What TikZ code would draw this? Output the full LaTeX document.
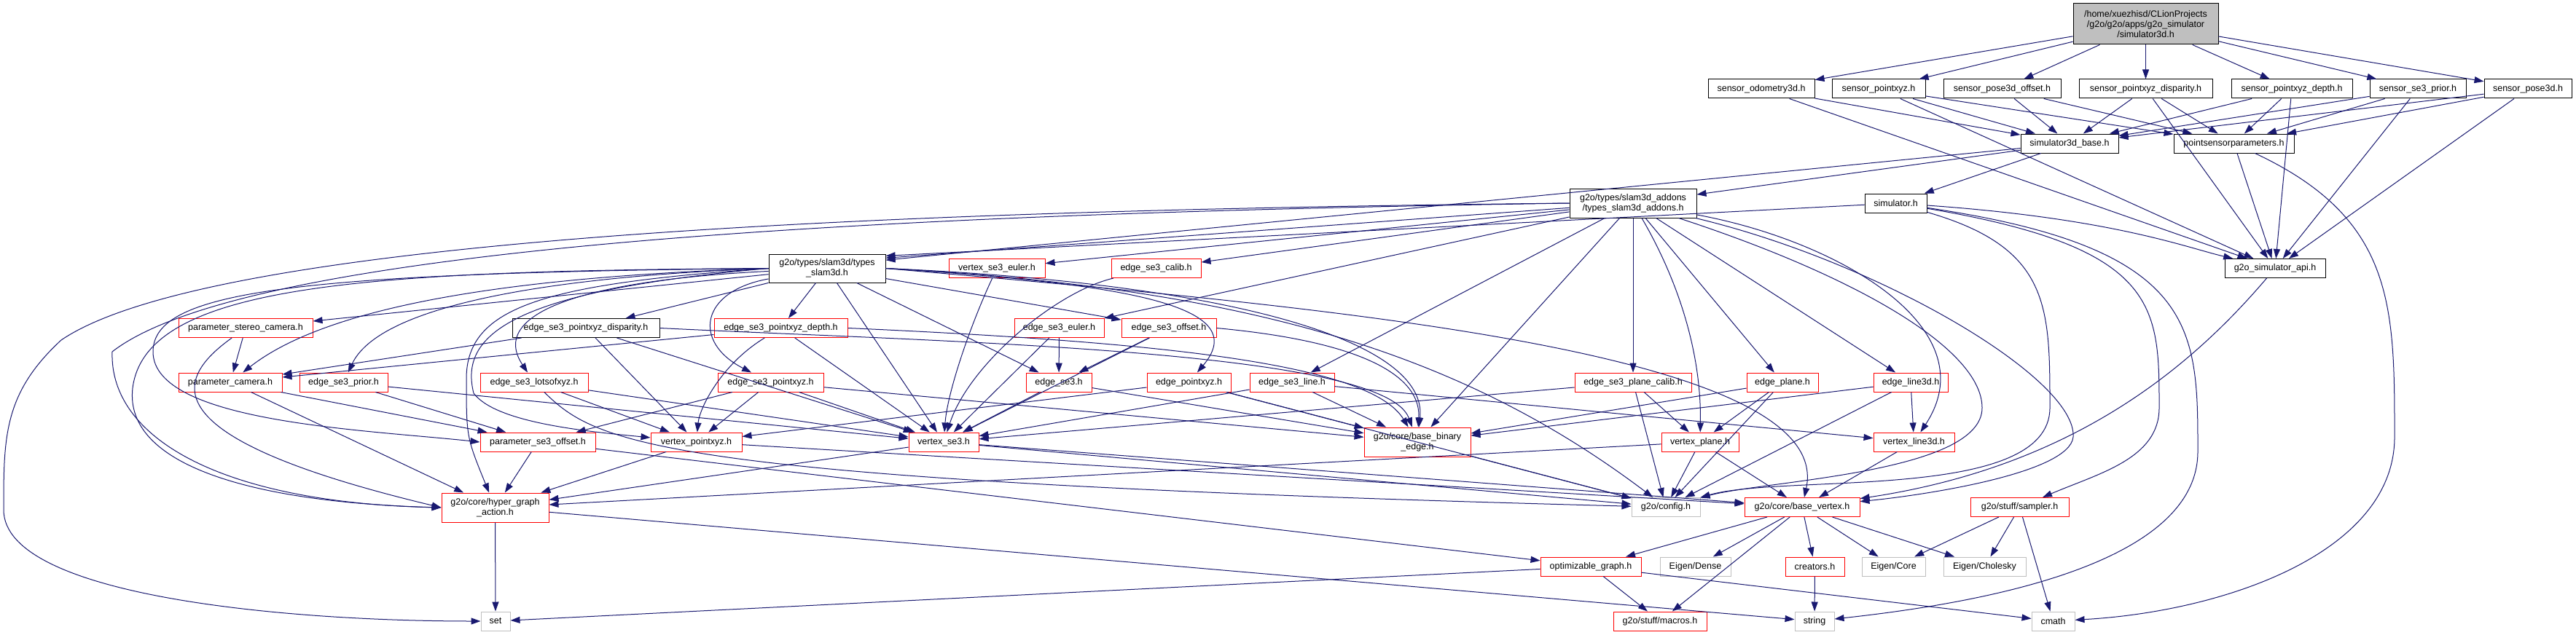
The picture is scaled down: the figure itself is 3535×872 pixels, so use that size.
\documentclass[tikz,border=0pt]{standalone}
\usepackage{fontspec}
\setmainfont{Liberation Sans}
\usetikzlibrary{arrows.meta}
\definecolor{edgecol}{HTML}{191970}
\definecolor{rootfill}{HTML}{BFBFBF}
\definecolor{extgray}{HTML}{BFBFBF}
\begin{document}
\begin{tikzpicture}[x=1pt,y=-1pt,
  nb/.style={draw=black, line width=1.0pt, fill=white, inner sep=0pt, align=center,
             font=\fontsize{12.5}{14}\selectfont, minimum height=26pt},
  nr/.style={nb, draw=red},
  ng/.style={nb, draw=extgray},
  e/.style={draw=edgecol, line width=1.0pt, -{Triangle[length=13pt,width=9pt]}}]
\path[fill=white, use as bounding box] (0,0) rectangle (3535,872);

% ---------- nodes ----------
\node[nb, fill=rootfill, minimum width=199pt, minimum height=56pt] (root) at (2944.5,33)
  {/home/xuezhisd/CLionProjects\\/g2o/g2o/apps/g2o\_simulator\\/simulator3d.h};
\node[nb, minimum width=146pt] (odom) at (2417,122) {sensor\_odometry3d.h};
\node[nb, minimum width=128pt] (pxyz) at (2578,122) {sensor\_pointxyz.h};
\node[nb, minimum width=161pt] (p3off) at (2747.5,122) {sensor\_pose3d\_offset.h};
\node[nb, minimum width=183pt] (dispS) at (2944.5,122) {sensor\_pointxyz\_disparity.h};
\node[nb, minimum width=166pt] (depthS) at (3145,122) {sensor\_pointxyz\_depth.h};
\node[nb, minimum width=132pt] (priorS) at (3318,122) {sensor\_se3\_prior.h};
\node[nb, minimum width=120pt] (pose3dS) at (3469,122) {sensor\_pose3d.h};
\node[nb, minimum width=134pt] (base3d) at (2840,197) {simulator3d\_base.h};
\node[nb, minimum width=165pt] (psp) at (3065.5,197) {pointsensorparameters.h};
\node[nb, minimum width=174pt, minimum height=40pt] (addons) at (2241,279) {g2o/types/slam3d\_addons\\/types\_slam3d\_addons.h};
\node[nb, minimum width=85pt] (simu) at (2601.5,279) {simulator.h};
\node[nb, minimum width=138pt] (api) at (3122,368.5) {g2o\_simulator\_api.h};
\node[nb, minimum width=160pt, minimum height=39pt] (slam) at (1135,368.5) {g2o/types/slam3d/types\\\_slam3d.h};
\node[nr, minimum width=132pt] (vse3e) at (1368,368.5) {vertex\_se3\_euler.h};
\node[nr, minimum width=123pt] (ecalib) at (1586.5,368.5) {edge\_se3\_calib.h};
\node[nr, minimum width=184pt] (pstereo) at (337,450.5) {parameter\_stereo\_camera.h};
\node[nb, minimum width=202pt] (dispE) at (804,450.5) {edge\_se3\_pointxyz\_disparity.h};
\node[nr, minimum width=183pt] (depthE) at (1071.5,450.5) {edge\_se3\_pointxyz\_depth.h};
\node[nr, minimum width=123pt] (ese3e) at (1453.5,450.5) {edge\_se3\_euler.h};
\node[nr, minimum width=130pt] (eoff) at (1604,450.5) {edge\_se3\_offset.h};
\node[nr, minimum width=142pt] (pcam) at (316,525) {parameter\_camera.h};
\node[nr, minimum width=121pt] (eprior) at (471.5,525) {edge\_se3\_prior.h};
\node[nr, minimum width=148pt] (lots) at (733,525) {edge\_se3\_lotsofxyz.h};
\node[nr, minimum width=145pt] (epxyz3) at (1057.5,525) {edge\_se3\_pointxyz.h};
\node[nr, minimum width=90pt] (ese3) at (1453,525) {edge\_se3.h};
\node[nr, minimum width=115pt] (epxyz) at (1631.5,525) {edge\_pointxyz.h};
\node[nr, minimum width=116pt] (eline) at (1773,525) {edge\_se3\_line.h};
\node[nr, minimum width=160pt] (eplc) at (2241,525) {edge\_se3\_plane\_calib.h};
\node[nr, minimum width=98pt] (eplane) at (2446,525) {edge\_plane.h};
\node[nr, minimum width=102pt] (eline3d) at (2622,525) {edge\_line3d.h};
\node[nr, minimum width=158pt] (pse3off) at (738,607) {parameter\_se3\_offset.h};
\node[nr, minimum width=125pt] (vpxyz) at (955.5,607) {vertex\_pointxyz.h};
\node[nr, minimum width=96pt] (vse3) at (1295,607) {vertex\_se3.h};
\node[nr, minimum width=146pt, minimum height=40pt] (bbe) at (1945,607) {g2o/core/base\_binary\\\_edge.h};
\node[nr, minimum width=106pt] (vplane) at (2333,607) {vertex\_plane.h};
\node[nr, minimum width=111pt] (vline3d) at (2626.5,607) {vertex\_line3d.h};
\node[nr, minimum width=147pt, minimum height=40pt] (hga) at (679.5,697) {g2o/core/hyper\_graph\\\_action.h};
\node[ng, minimum width=94pt] (config) at (2286,696.5) {g2o/config.h};
\node[nr, minimum width=158pt] (bvert) at (2473,696.5) {g2o/core/base\_vertex.h};
\node[nr, minimum width=135pt] (sampler) at (2771.5,696.5) {g2o/stuff/sampler.h};
\node[nr, minimum width=138pt] (optg) at (2183,778) {optimizable\_graph.h};
\node[ng, minimum width=97pt] (edense) at (2326.5,778) {Eigen/Dense};
\node[nr, minimum width=81pt] (creators) at (2490.5,778) {creators.h};
\node[ng, minimum width=87pt] (ecore) at (2598.5,778) {Eigen/Core};
\node[ng, minimum width=113pt] (echol) at (2723.5,778) {Eigen/Cholesky};
\node[ng, minimum width=40pt] (set) at (680,853) {set};
\node[nr, minimum width=128pt] (macros) at (2278,853) {g2o/stuff/macros.h};
\node[ng, minimum width=54pt] (string) at (2490,853) {string};
\node[ng, minimum width=59pt] (cmath) at (2817.5,853) {cmath};

% ---------- straight edges ----------
\foreach \a/\b in {
 root/odom, root/pxyz, root/p3off, root/dispS, root/depthS, root/priorS, root/pose3dS,
 odom/base3d, odom/api, pxyz/base3d, pxyz/psp, pxyz/api, p3off/base3d, p3off/psp,
 dispS/base3d, dispS/psp, dispS/api, depthS/base3d, depthS/psp, depthS/api,
 priorS/base3d, priorS/psp, priorS/api, pose3dS/base3d, pose3dS/psp, pose3dS/api,
 psp/api, base3d/addons, base3d/simu,
 addons/vse3e, addons/ecalib, addons/ese3e, addons/eline, addons/bbe,
 addons/eplc, addons/eplane, addons/eline3d,
 slam/pstereo, slam/dispE, slam/depthE, slam/vse3, slam/ese3, slam/eoff,
 dispE/pcam, dispE/vpxyz, dispE/vse3, depthE/pcam, depthE/vse3,
 pstereo/pcam, pcam/pse3off, pcam/hga, eprior/pse3off, eprior/vse3,
 lots/vpxyz, lots/vse3, epxyz3/pse3off, epxyz3/vpxyz, epxyz3/vse3, epxyz3/bbe,
 ese3e/ese3, ese3e/vse3, eoff/ese3, eoff/vse3, ese3/vse3, ese3/bbe,
 epxyz/vpxyz, epxyz/bbe, epxyz/config, eline/vse3, eline/bbe, eline/vline3d,
 eplc/vse3, eplc/vplane, eplc/config, eplane/vplane, eplane/config, eplane/bbe,
 eline3d/vline3d, eline3d/config, eline3d/bbe,
 vplane/config, vplane/bvert, vplane/hga, vline3d/bvert, bbe/config,
 pse3off/hga, pse3off/optg, vpxyz/hga, vpxyz/bvert, vse3/hga, vse3/config, vse3/bvert,
 hga/set, hga/string, bvert/optg, bvert/edense, bvert/macros, bvert/creators,
 bvert/ecore, bvert/echol, optg/set, optg/macros, optg/cmath, creators/string,
 sampler/ecore, sampler/echol, sampler/cmath}
 \draw[e] (\a) -- (\b);

% edges into the upper right of types_slam3d
\draw[e] (base3d) -- (slam.8);
\draw[e] (addons) -- (slam.10);
\draw[e] (simu) -- (slam.12);

% ---------- curved edges ----------
\draw[e] (psp) .. controls (3286,300) and (3286,420) .. (3286,600)
  .. controls (3286,760) and (3050,840) .. (cmath);
\draw[e] (simu) .. controls (2900,300) and (3000,340) .. (api);
\draw[e] (simu) .. controls (2813,340) and (2813,420) .. (2813,560)
  .. controls (2813,690) and (2450,650) .. (config);
\draw[e] (simu) .. controls (2963,340) and (2963,420) .. (2963,560)
  .. controls (2963,630) and (2880,650) .. (sampler);
\draw[e] (simu) .. controls (3016,340) and (3016,450) .. (3016,620)
  .. controls (3016,780) and (2700,830) .. (string);
\draw[e] (api) .. controls (3010,500) and (2850,640) .. (bvert);
\draw[e] (addons) .. controls (2300,380) and (2335,480) .. (vplane);
\draw[e] (addons) .. controls (2550,380) and (2720,480) .. (2720,560)
  .. controls (2720,650) and (2420,660) .. (config);
\draw[e] (addons) .. controls (2580,360) and (2850,520) .. (2845,600)
  .. controls (2840,650) and (2640,680) .. (bvert);
\draw[e] (addons) .. controls (2520,330) and (2730,450) .. (vline3d);
\draw[e] (addons.west) .. controls (1300,288) and (300,320) .. (84,467)
  .. controls (5,540) and (5,600) .. (5,700) .. controls (5,820) and (400,853) .. (set.west);
\draw[e] (addons.west) .. controls (1300,292) and (350,330) .. (154,483)
  .. controls (150,600) and (300,690) .. (hga.west);
\draw[e] (slam.west) .. controls (500,372) and (200,390) .. (182,533)
  .. controls (170,640) and (350,690) .. (hga.west);
\draw[e] (slam.west) .. controls (400,375) and (210,400) .. (210,483)
  .. controls (210,580) and (500,590) .. (pse3off.west);
\draw[e] (pstereo) .. controls (240,520) and (200,600) .. (hga.west);
\draw[e] (slam.west) .. controls (750,390) and (640,420) .. (640,520)
  .. controls (640,600) .. (hga);
\draw[e] (slam.west) .. controls (700,400) and (630,460) .. (650,540)
  .. controls (680,580) and (800,592) .. (vpxyz);
\draw[e] (slam.west) .. controls (700,380) and (450,420) .. (pcam);
\draw[e] (slam.west) .. controls (750,380) and (520,420) .. (eprior);
\draw[e] (slam) .. controls (800,385) and (670,430) .. (lots);
\draw[e] (slam) .. controls (960,400) and (950,470) .. (epxyz3);
\draw[e] (slam.east) .. controls (1550,390) and (1720,420) .. (epxyz);
\draw[e] (slam.east) .. controls (1700,390) and (1960,470) .. (bbe);
\draw[e] (slam.east) .. controls (1700,395) and (2000,480) .. (config);
\draw[e] (slam.east) .. controls (1800,420) and (2520,480) .. (bvert);
\draw[e] (dispE.east) .. controls (1300,470) and (1900,480) .. (bbe);
\draw[e] (depthE.east) .. controls (1600,470) and (1880,500) .. (bbe);
\draw[e] (depthE) .. controls (990,500) and (960,560) .. (vpxyz);
\draw[e] (lots) .. controls (820,610) and (900,660) .. (config);
\draw[e] (vse3e) .. controls (1330,450) and (1300,540) .. (vse3);
\draw[e] (ecalib) .. controls (1450,400) and (1330,500) .. (vse3);
\draw[e] (eoff.east) .. controls (1880,470) and (1950,520) .. (bbe);
\end{tikzpicture}
\end{document}
